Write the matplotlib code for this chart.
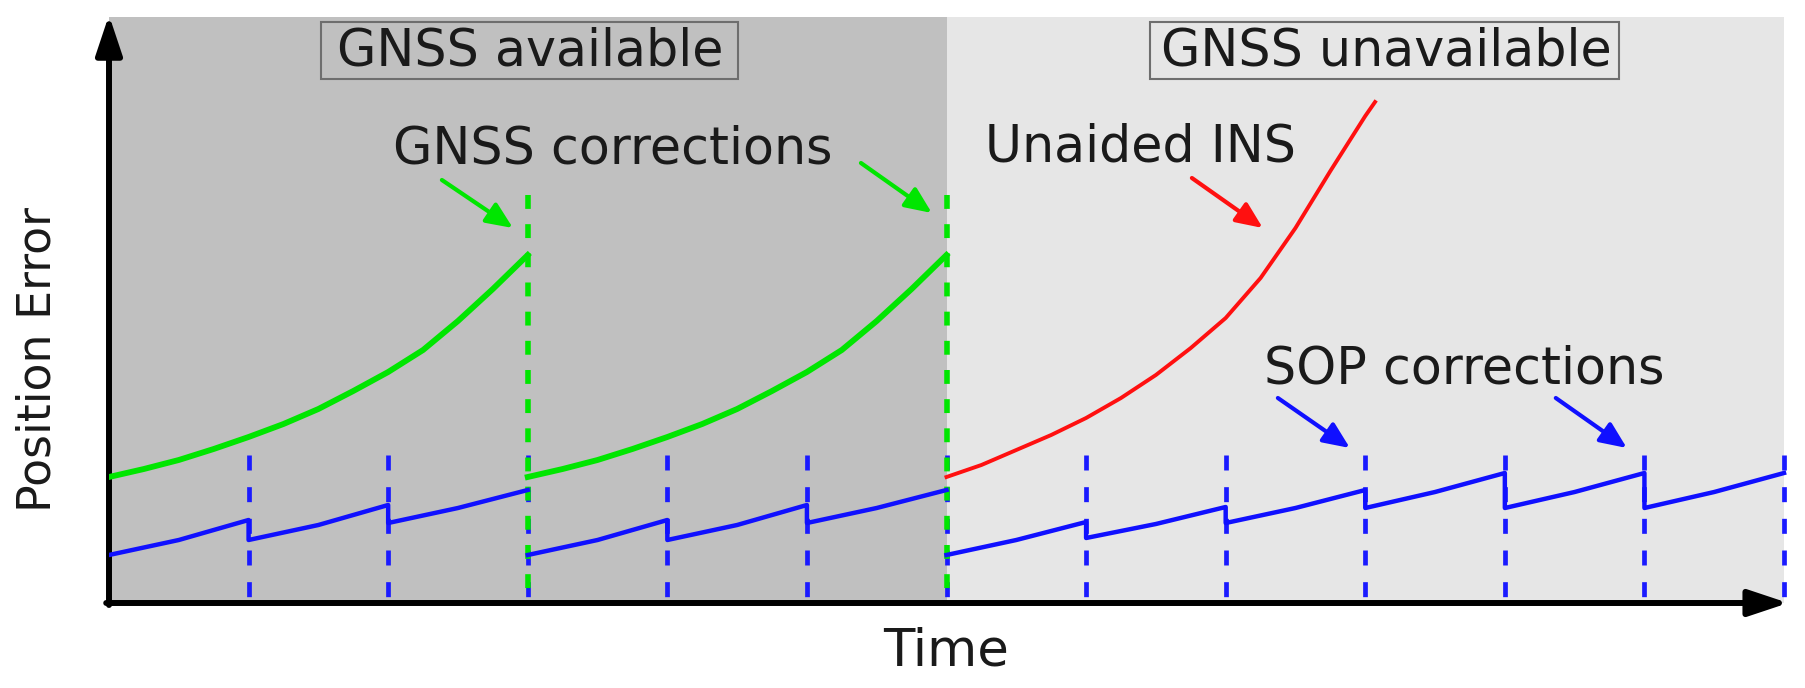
import matplotlib
matplotlib.use("Agg")
import numpy as np
import matplotlib.pyplot as plt
from matplotlib.patches import Rectangle

plt.rcParams['lines.scale_dashes'] = False

# tempos das correcoes
gnss_times = [3, 6]
sop_times = [1, 2, 3, 4, 5, 6, 7, 8, 9, 10, 11, 12]

# erro com GNSS (verde), dois ciclos
green_x = [0, 0.25, 0.5, 0.75, 1, 1.25, 1.5, 1.75, 2, 2.25, 2.5, 2.75, 3,
           3, 3.25, 3.5, 3.75, 4, 4.25, 4.5, 4.75, 5, 5.25, 5.5, 5.75, 6]
green_y = [126, 134, 143, 154, 166, 179, 194, 212, 231, 253, 282, 314, 348,
           126, 134, 143, 154, 166, 179, 194, 212, 231, 253, 282, 314, 348]

# INS sem ajuda (vermelho)
red_x = [6, 6.25, 6.5, 6.75, 7, 7.25, 7.5, 7.75, 8, 8.25, 8.5, 8.75, 9, 9.07]
red_y = [126, 138, 153, 168, 185, 205, 228, 255, 285, 325, 375, 432, 487, 501]

# erro com SOP (azul), dente de serra
blue_x = [0, 0.5, 1, 1, 1.5, 2, 2, 2.5, 3,
          3, 3.5, 4, 4, 4.5, 5, 5, 5.5, 6,
          6, 6.5, 7, 7, 7.5, 8, 8, 8.5, 9,
          9, 9.5, 10, 10, 10.5, 11, 11, 11.5, 12]
blue_y = [48, 63, 83, 63, 78, 98, 80, 95, 113,
          48, 63, 83, 63, 78, 98, 80, 95, 113,
          48, 63, 81, 65, 79, 96, 80, 95, 113,
          95, 111, 130, 95, 111, 130, 95, 111, 130]

txt = '#1a1a1a'
fs = 36.5
verde, azul, verm = '#00e600', '#1010ff', '#ff1010'


def partes(xs, ys):
    # quebra a curva onde o GNSS zera o erro (sem traco vertical)
    xs, ys = np.array(xs, float), np.array(ys, float)
    cortes = [i for i in range(1, len(xs)) if xs[i] == xs[i-1] and xs[i] in gnss_times]
    return [(xs[s], ys[s]) for s in np.split(np.arange(len(xs)), cortes)]


fig = plt.figure(figsize=(18.05, 6.88), dpi=100)
ax = fig.add_axes([109/1805, 85/688, 1682/1805, 586/688])
ax.set_xlim(0, 12.05)
ax.set_ylim(0, 586)
ax.axis('off')

# fundo
ax.axvspan(0, 6, color='#c0c0c0', lw=0, zorder=0)
ax.axvspan(6, 12, color='#e6e6e6', lw=0, zorder=0)

# linhas tracejadas das correcoes
for t in sop_times:
    ax.plot([t, t], [148, 0], color='#1a1aff', lw=3.4, linestyle=(0, (10.8, 12)), zorder=2)
for t in gnss_times:
    ax.plot([t, t], [408, 0], color=verde, lw=4, linestyle=(0, (10, 11)), zorder=3)

for px, py in partes(blue_x, blue_y):
    ax.plot(px, py, color=azul, lw=3.2, zorder=4)
for px, py in partes(green_x, green_y):
    ax.plot(px, py, color=verde, lw=4.2, zorder=5)
ax.plot(red_x, red_y, color=verm, lw=2.8, zorder=5)

# eixos com setas
axprops = dict(arrowstyle='-|>,head_length=2.4,head_width=0.8', lw=4.3, color='k',
               shrinkA=0, shrinkB=0, mutation_scale=10)
ax.annotate('', xy=(12.03, 0), xytext=(-0.02, 0), arrowprops=axprops, annotation_clip=False)
ax.annotate('', xy=(0, 588), xytext=(0, -2), arrowprops=axprops, annotation_clip=False)

# caixas de regiao
ax.add_patch(Rectangle((1.519, 524), 2.987, 57, fill=False, ec='#6e6e6e', lw=1.5, zorder=6))
ax.add_patch(Rectangle((7.457, 524), 3.363, 57, fill=False, ec='#6e6e6e', lw=1.5, zorder=6))
ax.text(3.016, 538, 'GNSS available', ha='center', va='baseline', fontsize=fs, color=txt)
ax.text(9.15, 538, 'GNSS unavailable', ha='center', va='baseline', fontsize=fs, color=txt)

# anotacoes
ax.text(2.034, 440, 'GNSS corrections', ha='left', va='baseline', fontsize=fs, color=txt)
ax.text(6.275, 441, 'Unaided INS', ha='left', va='baseline', fontsize=fs, color=txt)
ax.text(8.274, 220, 'SOP corrections', ha='left', va='baseline', fontsize=fs, color=txt)


def seta(p0, p1, cor):
    ax.annotate('', xy=p1, xytext=p0,
                arrowprops=dict(arrowstyle='-|>,head_length=0.8,head_width=0.35', lw=3,
                                color=cor, shrinkA=0, shrinkB=0, mutation_scale=20))


seta((2.385, 423), (2.894, 375), verde)
seta((5.387, 440), (5.895, 390), verde)
seta((7.758, 425), (8.266, 375), verm)
seta((8.374, 205), (8.89, 155), azul)
seta((10.365, 205), (10.874, 155), azul)

ax.text(6.0, -62, 'Time', ha='center', va='baseline', fontsize=37, color=txt)
fig.text(38/1805, 1 - 360/688, 'Position Error', rotation=90, ha='center', va='center',
         fontsize=33, color=txt)

fig.savefig('out.png', dpi=100)
